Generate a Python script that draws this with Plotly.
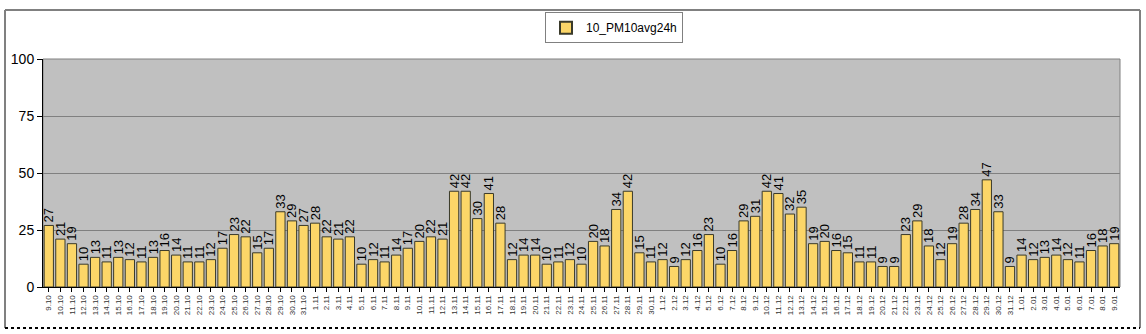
import plotly.graph_objects as go

oct_days = list(range(9, 32))
nov_days = list(range(1, 31))
dec_days = list(range(1, 32))
jan_days = list(range(1, 10))

dates = ([f"{d}.10" for d in oct_days] + [f"{d}.11" for d in nov_days]
         + [f"{d}.12" for d in dec_days] + [f"{d}.01" for d in jan_days])

pm10 = [27, 21, 19, 10, 13, 11, 13, 12, 11, 13, 16, 14, 11, 11, 12, 17, 23, 22, 15, 17, 33, 29, 27,
        28, 22, 21, 22, 10, 12, 11, 14, 17, 20, 22, 21, 42, 42, 30, 41, 28, 12, 14, 14, 10, 11, 12, 10, 20, 18, 34, 42, 15, 11,
        12, 9, 12, 16, 23, 10, 16, 29, 31, 42, 41, 32, 35, 19, 20, 16, 15, 11, 11, 9, 9, 23, 29, 18, 12, 19, 28, 34, 47, 33, 9,
        14, 12, 13, 14, 12, 11, 16, 18, 19]

series_name = "10_PM10avg24h"
y_ticks = [0, 25, 50, 75, 100]

fig = go.Figure()
fig.add_trace(go.Bar(
    x=dates, y=pm10, name=series_name,
    marker=dict(color="#FCD668", line=dict(color="#3a3a2a", width=1)),
    text=[str(v) for v in pm10], textposition="outside", textangle=-90,
    textfont=dict(family="Arial, Liberation Sans", size=13, color="#000000"),
    constraintext="none", cliponaxis=False, showlegend=True,
))

L, R, T, B = 43, 26, 54, 47
W, H = 1146, 334
pw, ph = W - L - R, H - T - B

def px_x(x):
    return (x - L) / pw

def px_y(y):
    return (H - B - y) / ph

shapes = [
    dict(type="rect", xref="paper", yref="paper", x0=0, x1=1, y0=0, y1=1,
         line=dict(color="#808080", width=1), layer="below"),
    dict(type="line", xref="paper", yref="paper", x0=px_x(5), x1=px_x(5), y0=px_y(4), y1=px_y(329),
         line=dict(color="#808080", width=2)),
    dict(type="line", xref="paper", yref="paper", x0=px_x(5), x1=px_x(1140), y0=px_y(4), y1=px_y(4),
         line=dict(color="#808080", width=2)),
    dict(type="line", xref="paper", yref="paper", x0=px_x(1140), x1=px_x(1140), y0=px_y(4), y1=px_y(329),
         line=dict(color="#808080", width=2)),
    dict(type="line", xref="paper", yref="paper", x0=px_x(5), x1=px_x(1140), y0=px_y(329), y1=px_y(329),
         line=dict(color="#000000", width=2, dash="dot")),
]

fig.update_layout(
    width=W, height=H,
    margin=dict(l=L, r=R, t=T, b=B),
    paper_bgcolor="#FFFFFF", plot_bgcolor="#C0C0C0",
    bargap=0.2,
    font=dict(family="Arial, Liberation Sans", color="#000000"),
    shapes=shapes,
    showlegend=True,
    legend=dict(x=px_x(614), y=px_y(22), xanchor="center", yanchor="middle",
                orientation="h", bgcolor="#FFFFFF", bordercolor="#808080", borderwidth=1,
                font=dict(size=12, family="Arial, Liberation Sans"),
                itemwidth=30, itemsizing="constant"),
    xaxis=dict(type="category", tickangle=-90, tickfont=dict(size=8, color="#333333"),
               showline=True, linecolor="#000000", linewidth=1, ticks="outside", ticklen=4,
               tickcolor="#000000", showgrid=False, range=[-0.5, len(dates) - 0.5]),
    yaxis=dict(range=[0, 100], tickvals=y_ticks, ticktext=[str(v) for v in y_ticks],
               tickfont=dict(size=14), showline=True, linecolor="#000000", linewidth=1,
               ticks="outside", ticklen=5, tickcolor="#000000",
               showgrid=True, gridcolor="#808080", gridwidth=1, zeroline=False),
)

fig.write_html("out.html")
